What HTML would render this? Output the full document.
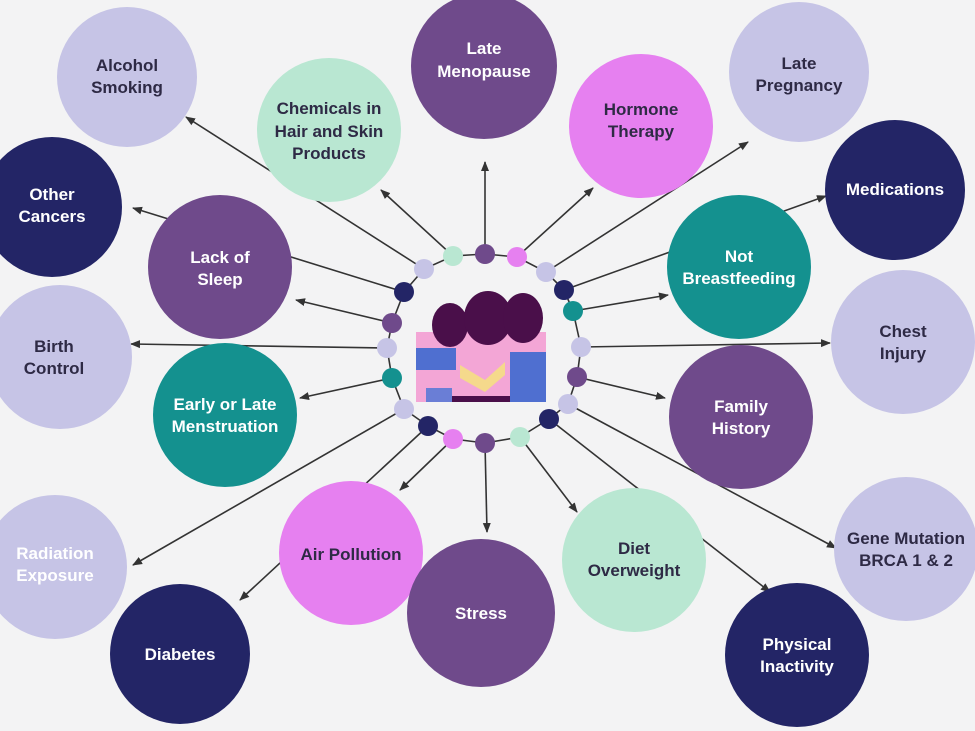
<!DOCTYPE html>
<html><head><meta charset="utf-8"><style>
html,body{margin:0;padding:0;background:#f3f3f4;}
svg{display:block}
text{font-family:"Liberation Sans",sans-serif;font-weight:bold;font-size:17px;text-anchor:middle}
.d{fill:#2e2a45}.w{fill:#fff}
</style></head><body>
<svg width="975" height="731" viewBox="0 0 975 731">
<defs><marker id="a" markerWidth="10" markerHeight="10" refX="9" refY="5" orient="auto" markerUnits="userSpaceOnUse"><path d="M0,1 L10,5 L0,9 z" fill="#333"/></marker></defs>
<rect width="975" height="731" fill="#f3f3f4"/>
<g stroke="#333" stroke-width="1.6" marker-end="url(#a)">
<line x1="424" y1="269" x2="186" y2="117"/>
<line x1="404" y1="292" x2="133" y2="208"/>
<line x1="392" y1="323" x2="296" y2="300"/>
<line x1="387" y1="348" x2="131" y2="344"/>
<line x1="392" y1="378" x2="300" y2="398"/>
<line x1="404" y1="409" x2="133" y2="565"/>
<line x1="428" y1="426" x2="240" y2="600"/>
<line x1="453" y1="439" x2="400" y2="490"/>
<line x1="485" y1="443" x2="487" y2="532"/>
<line x1="520" y1="437" x2="577" y2="512"/>
<line x1="549" y1="419" x2="770" y2="592"/>
<line x1="568" y1="404" x2="836" y2="548"/>
<line x1="577" y1="377" x2="665" y2="398"/>
<line x1="581" y1="347" x2="830" y2="343"/>
<line x1="573" y1="311" x2="668" y2="295"/>
<line x1="564" y1="290" x2="826" y2="196"/>
<line x1="546" y1="272" x2="748" y2="142"/>
<line x1="517" y1="257" x2="593" y2="188"/>
<line x1="485" y1="254" x2="485" y2="162"/>
<line x1="453" y1="256" x2="381" y2="190"/>
</g>
<g>
<circle cx="127" cy="77" r="70" fill="#c6c4e6"/><text class="d" x="127" y="71">Alcohol</text><text class="d" x="127" y="93">Smoking</text>
<circle cx="484" cy="66" r="73" fill="#6f4a8b"/><text class="w" x="484" y="54">Late</text><text class="w" x="484" y="77">Menopause</text>
<circle cx="799" cy="72" r="70" fill="#c6c4e6"/><text class="d" x="799" y="69">Late</text><text class="d" x="799" y="91">Pregnancy</text>
<circle cx="329" cy="130" r="72" fill="#b9e7d2"/><text class="d" x="329" y="114">Chemicals in</text><text class="d" x="329" y="137">Hair and Skin</text><text class="d" x="329" y="159">Products</text>
<circle cx="641" cy="126" r="72" fill="#e680f0"/><text class="d" x="641" y="115">Hormone</text><text class="d" x="641" y="137">Therapy</text>
<circle cx="52" cy="207" r="70" fill="#232566"/><text class="w" x="52" y="200">Other</text><text class="w" x="52" y="222">Cancers</text>
<circle cx="895" cy="190" r="70" fill="#232566"/><text class="w" x="895" y="195">Medications</text>
<circle cx="220" cy="267" r="72" fill="#6f4a8b"/><text class="w" x="220" y="263">Lack of</text><text class="w" x="220" y="285">Sleep</text>
<circle cx="739" cy="267" r="72" fill="#14918f"/><text class="w" x="739" y="262">Not</text><text class="w" x="739" y="284">Breastfeeding</text>
<circle cx="60" cy="357" r="72" fill="#c6c4e6"/><text class="d" x="54" y="352">Birth</text><text class="d" x="54" y="374">Control</text>
<circle cx="903" cy="342" r="72" fill="#c6c4e6"/><text class="d" x="903" y="337">Chest</text><text class="d" x="903" y="359">Injury</text>
<circle cx="225" cy="415" r="72" fill="#14918f"/><text class="w" x="225" y="410">Early or Late</text><text class="w" x="225" y="432">Menstruation</text>
<circle cx="741" cy="417" r="72" fill="#6f4a8b"/><text class="w" x="741" y="412">Family</text><text class="w" x="741" y="434">History</text>
<circle cx="55" cy="567" r="72" fill="#c6c4e6"/><text class="w" x="55" y="559">Radiation</text><text class="w" x="55" y="581">Exposure</text>
<circle cx="906" cy="549" r="72" fill="#c6c4e6"/><text class="d" x="906" y="544">Gene Mutation</text><text class="d" x="906" y="566">BRCA 1 &amp; 2</text>
<circle cx="351" cy="553" r="72" fill="#e680f0"/><text class="d" x="351" y="560">Air Pollution</text>
<circle cx="634" cy="560" r="72" fill="#b9e7d2"/><text class="d" x="634" y="554">Diet</text><text class="d" x="634" y="576">Overweight</text>
<circle cx="481" cy="613" r="74" fill="#6f4a8b"/><text class="w" x="481" y="619">Stress</text>
<circle cx="180" cy="654" r="70" fill="#232566"/><text class="w" x="180" y="660">Diabetes</text>
<circle cx="797" cy="655" r="72" fill="#232566"/><text class="w" x="797" y="650">Physical</text><text class="w" x="797" y="672">Inactivity</text>
</g>
<polygon points="453,256 485,254 517,257 546,272 564,290 573,311 581,347 577,377 568,404 549,419 520,437 485,443 453,439 428,426 404,409 392,378 387,348 392,323 404,292 424,269" fill="none" stroke="#333" stroke-width="1.6"/>
<g>
<circle cx="453" cy="256" r="10" fill="#b9e7d2"/><circle cx="485" cy="254" r="10" fill="#6f4a8b"/><circle cx="517" cy="257" r="10" fill="#e680f0"/><circle cx="546" cy="272" r="10" fill="#c6c4e6"/><circle cx="564" cy="290" r="10" fill="#232566"/><circle cx="573" cy="311" r="10" fill="#14918f"/><circle cx="581" cy="347" r="10" fill="#c6c4e6"/><circle cx="577" cy="377" r="10" fill="#6f4a8b"/><circle cx="568" cy="404" r="10" fill="#c6c4e6"/><circle cx="549" cy="419" r="10" fill="#232566"/><circle cx="520" cy="437" r="10" fill="#b9e7d2"/><circle cx="485" cy="443" r="10" fill="#6f4a8b"/><circle cx="453" cy="439" r="10" fill="#e680f0"/><circle cx="428" cy="426" r="10" fill="#232566"/><circle cx="404" cy="409" r="10" fill="#c6c4e6"/><circle cx="392" cy="378" r="10" fill="#14918f"/><circle cx="387" cy="348" r="10" fill="#c6c4e6"/><circle cx="392" cy="323" r="10" fill="#6f4a8b"/><circle cx="404" cy="292" r="10" fill="#232566"/><circle cx="424" cy="269" r="10" fill="#c6c4e6"/>
</g>
<g>
<rect x="416" y="332" width="130" height="70" fill="#f3a6d6"/>
<ellipse cx="450" cy="325" rx="18" ry="22" fill="#4a0f4a"/>
<ellipse cx="488" cy="318" rx="24" ry="27" fill="#4a0f4a"/>
<ellipse cx="523" cy="318" rx="20" ry="25" fill="#4a0f4a"/>
<rect x="416" y="348" width="40" height="22" fill="#4f6fd0"/>
<rect x="510" y="352" width="36" height="50" fill="#4f6fd0"/>
<polygon points="460,365 485,380 505,362 505,375 485,392 460,378" fill="#f5d98c"/>
<rect x="426" y="388" width="26" height="14" fill="#6a7ed6"/>
<rect x="452" y="396" width="58" height="6" fill="#4a0f4a"/>
</g>
</svg>
</body></html>
